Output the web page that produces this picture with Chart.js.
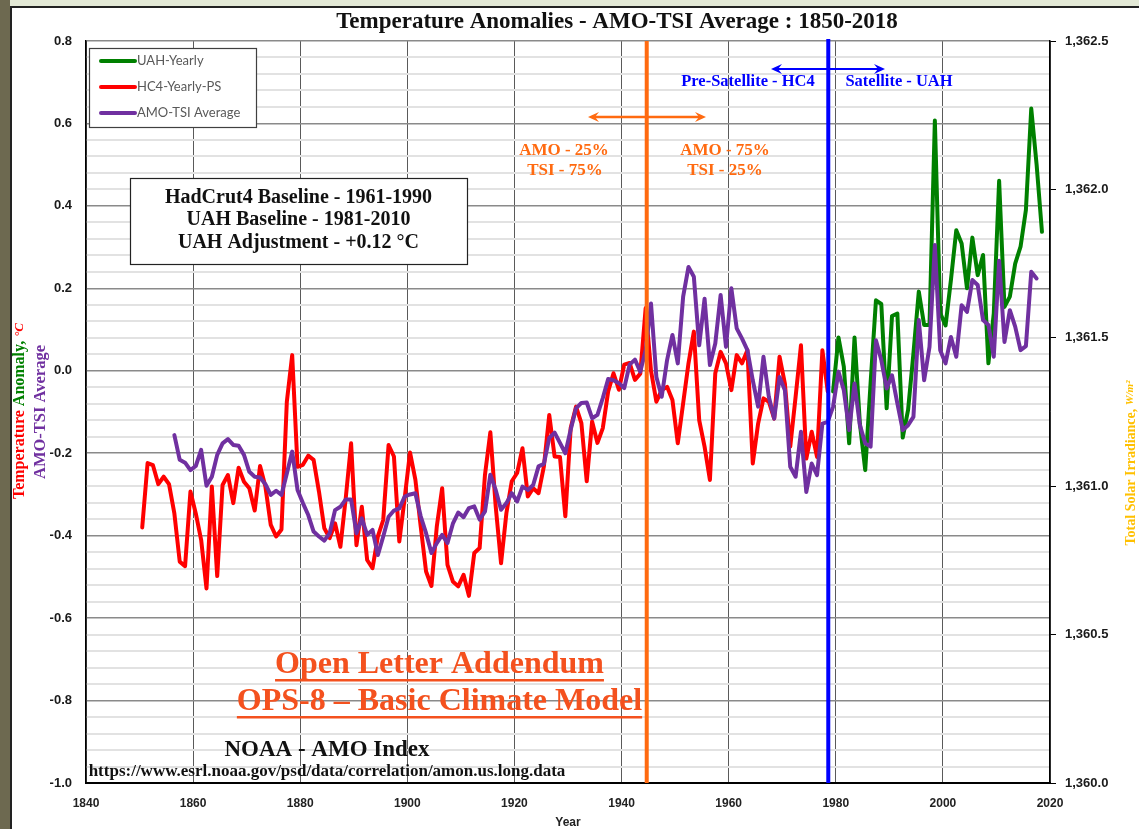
<!DOCTYPE html>
<html>
<head>
<meta charset="utf-8">
<title>Temperature Anomalies - AMO-TSI Average : 1850-2018</title>
<script src="https://cdn.jsdelivr.net/npm/chart.js@4.4.1/dist/chart.umd.min.js"></script>
<style>
  html, body { margin: 0; padding: 0; }
  body { width: 1139px; height: 829px; background: #e3e9d6; position: relative; overflow: hidden; }
  #edge { position: absolute; left: 0; top: 0; width: 10px; height: 829px; background: #6d6950; }
  #frame { position: absolute; left: 10px; top: 6px; width: 1129px; height: 823px; background: #fff;
           border-left: 2px solid #222; border-top: 2px solid #222; box-sizing: border-box; }
  #mycanvas { position: absolute; left: 0; top: 0; }
</style>
</head>
<body>
<div id="edge"></div>
<div id="frame"></div>
<canvas id="mycanvas" width="1139" height="829"></canvas>
<script>
// HadCrut4 yearly (pre-satellite), 1850-1978
var hc4Start = 1850;
var hc4Yearly = [
  -0.380, -0.224, -0.229, -0.275, -0.257, -0.275, -0.346, -0.463, -0.474, -0.293,
  -0.346, -0.410, -0.528, -0.281, -0.498, -0.277, -0.253, -0.321, -0.235, -0.269,
  -0.285, -0.339, -0.231, -0.281, -0.374, -0.402, -0.385, -0.075, 0.038, -0.233,
  -0.228, -0.206, -0.216, -0.293, -0.382, -0.406, -0.370, -0.427, -0.309, -0.176,
  -0.423, -0.330, -0.459, -0.479, -0.402, -0.362, -0.180, -0.208, -0.414, -0.309,
  -0.198, -0.264, -0.378, -0.487, -0.522, -0.378, -0.285, -0.471, -0.511, -0.523,
  -0.495, -0.546, -0.442, -0.430, -0.252, -0.149, -0.329, -0.467, -0.345, -0.268,
  -0.248, -0.188, -0.305, -0.285, -0.297, -0.232, -0.107, -0.208, -0.209, -0.353,
  -0.139, -0.087, -0.127, -0.268, -0.123, -0.175, -0.139, -0.050, -0.006, -0.046,
  0.015, 0.019, -0.022, -0.007, 0.152, 0.000, -0.075, -0.047, -0.039, -0.071,
  -0.176, -0.079, 0.018, 0.095, -0.120, -0.184, -0.265, -0.006, 0.046, 0.018,
  -0.047, 0.038, 0.018, 0.050, -0.225, -0.128, -0.067, -0.075, -0.116, 0.034,
  -0.031, -0.184, -0.063, 0.062, -0.213, -0.148, -0.209, 0.050, -0.050
];

// UAH yearly (+0.12 adjustment), 1979-2018
var uahStart = 1979;
var uahYearly = [
  -0.050, 0.081, 0.010, -0.176, 0.081, -0.128, -0.241, -0.030, 0.171, 0.162, -0.091,
  0.133, 0.139, -0.162, -0.095, 0.042, 0.192, 0.111, 0.111, 0.607, 0.140,
  0.110, 0.220, 0.341, 0.309, 0.200, 0.323, 0.232, 0.281, 0.018, 0.139,
  0.461, 0.155, 0.180, 0.260, 0.301, 0.390, 0.636, 0.500, 0.337
];

// AMO-TSI average, 1856-2017
var amoStart = 1856;
var amoTsi = [
  -0.156, -0.216, -0.223, -0.241,
  -0.231, -0.192, -0.279, -0.257, -0.204, -0.176, -0.166, -0.180, -0.182, -0.204,
  -0.245, -0.257, -0.259, -0.275, -0.301, -0.291, -0.301, -0.249, -0.196, -0.289,
  -0.321, -0.350, -0.390, -0.402, -0.412, -0.394, -0.338, -0.330, -0.312, -0.312,
  -0.394, -0.358, -0.398, -0.386, -0.447, -0.402, -0.354, -0.339, -0.334, -0.305,
  -0.300, -0.297, -0.353, -0.394, -0.442, -0.418, -0.398, -0.418, -0.371, -0.344,
  -0.355, -0.333, -0.329, -0.361, -0.341, -0.252, -0.289, -0.337, -0.321, -0.297,
  -0.317, -0.281, -0.289, -0.277, -0.232, -0.226, -0.163, -0.150, -0.175, -0.200,
  -0.143, -0.091, -0.078, -0.077, -0.115, -0.107, -0.066, -0.020, -0.023, -0.030,
  -0.042, 0.015, 0.027, -0.002, 0.050, 0.163, -0.015, -0.063, 0.026, 0.087,
  0.018, 0.180, 0.252, 0.228, 0.062, 0.175, 0.014, 0.066, 0.184, 0.058,
  0.200, 0.103, 0.078, 0.050, -0.023, -0.087, 0.034, -0.063, -0.116, -0.015,
  -0.047, -0.233, -0.257, -0.148, -0.294, -0.225, -0.253, -0.128, -0.124, -0.087,
  -0.002, -0.047, -0.144, -0.031, -0.132, -0.176, -0.184, 0.074, 0.026, -0.043,
  -0.011, -0.079, -0.144, -0.132, -0.112, 0.123, -0.023, 0.058, 0.305, 0.050,
  0.018, 0.082, 0.034, 0.159, 0.143, 0.220, 0.208, 0.123, 0.111, 0.034,
  0.267, 0.070, 0.147, 0.107, 0.050, 0.060, 0.240, 0.224
];

var yearTicks = [1840, 1860, 1880, 1900, 1920, 1940, 1960, 1980, 2000, 2020];
var amoSplitYear = 1944.7;   // AMO 25/75 weighting switch
var satSplitYear = 1978.6;   // start of satellite record

var orange = '#ff6a10';
var blue = '#0000ff';
var serif = '"Liberation Serif", "Times New Roman", serif';
var sans = '"Liberation Sans", Arial, sans-serif';

// yearly values plotted at mid-year
function toPoints(start, vals) {
    var pts = [];
    for (var i = 0; i < vals.length; i++) {
        pts.push({x: start + i + 0.5, y: vals[i]});
    }
    return pts;
}

function isMajor(v) {
    return Math.abs(v * 5 - Math.round(v * 5)) < 1e-6;
}

function txt(ctx, s, x, y, font, color, align) {
    ctx.font = font;
    ctx.fillStyle = color;
    ctx.textAlign = align || 'center';
    ctx.textBaseline = 'middle';
    ctx.fillText(s, x, y);
    return ctx.measureText(s).width;
}

function underlined(ctx, s, cx, y, font, color, uy) {
    var w = txt(ctx, s, cx, y, font, color);
    ctx.fillRect(cx - w / 2, uy, w, 2.5);
}

function rotRuns(ctx, cx, cy, runs) {
    ctx.save();
    ctx.translate(cx, cy);
    ctx.rotate(-Math.PI / 2);
    ctx.textAlign = 'left';
    ctx.textBaseline = 'middle';
    var total = 0, widths = [];
    runs.forEach(function (r) {
        ctx.font = r[2];
        var w = ctx.measureText(r[0]).width;
        widths.push(w);
        total += w;
    });
    var x = -total / 2;
    runs.forEach(function (r, i) {
        ctx.font = r[2];
        ctx.fillStyle = r[1];
        ctx.fillText(r[0], x, r[3] || 0);
        x += widths[i];
    });
    ctx.restore();
}

function arrow(ctx, x1, x2, y, color, w) {
    ctx.save();
    ctx.strokeStyle = color;
    ctx.fillStyle = color;
    ctx.lineWidth = w;
    ctx.beginPath();
    ctx.moveTo(x1 + 5, y);
    ctx.lineTo(x2 - 5, y);
    ctx.stroke();
    [[x1, 1], [x2, -1]].forEach(function (h) {
        ctx.beginPath();
        ctx.moveTo(h[0], y);
        ctx.lineTo(h[0] + h[1] * 11, y - 5);
        ctx.lineTo(h[0] + h[1] * 7, y);
        ctx.lineTo(h[0] + h[1] * 11, y + 5);
        ctx.closePath();
        ctx.fill();
    });
    ctx.restore();
}

var decor = {
    id: 'decor',
    afterDatasetsDraw: function (chart) {
        var ctx = chart.ctx, a = chart.chartArea, x = chart.scales.x;
        ctx.save();
        ctx.lineWidth = 4;
        ctx.strokeStyle = orange;
        var xo = x.getPixelForValue(amoSplitYear);
        ctx.beginPath(); ctx.moveTo(xo, a.top); ctx.lineTo(xo, a.bottom); ctx.stroke();
        ctx.strokeStyle = blue;
        var xb = x.getPixelForValue(satSplitYear);
        ctx.beginPath(); ctx.moveTo(xb, a.top - 2); ctx.lineTo(xb, a.bottom); ctx.stroke();
        ctx.restore();
    },
    afterDraw: function (chart) {
        var ctx = chart.ctx, a = chart.chartArea;
        ctx.save();

        // title
        txt(ctx, 'Temperature Anomalies - AMO-TSI Average : 1850-2018', 617, 22, 'bold 23px ' + serif, '#111');

        // axis titles
        rotRuns(ctx, 20, 411, [
            ['Temperature ', '#ff0000', 'bold 16px ' + serif],
            ['Anomaly, ', '#008000', 'bold 16px ' + serif],
            ['\u00b0C', '#ff0000', 'italic bold 13px ' + serif]
        ]);
        rotRuns(ctx, 41, 412, [['AMO-TSI Average', '#7030a0', 'bold 16.5px ' + serif]]);
        rotRuns(ctx, 1131, 463, [
            ['Total Solar Irradiance, ', '#ffc000', 'bold 14px ' + serif],
            ['W/m\u00b2', '#ffc000', 'italic bold 11px ' + serif, -1]
        ]);
        txt(ctx, 'Year', (a.left + a.right) / 2, 823, 'bold 12px ' + sans, '#222');

        // legend box
        ctx.fillStyle = '#fff';
        ctx.fillRect(89, 48, 167, 79);
        ctx.strokeStyle = '#404040';
        ctx.lineWidth = 1.2;
        ctx.strokeRect(89.5, 48.5, 167, 79);
        var items = [['UAH-Yearly', '#008000'], ['HC4-Yearly-PS', '#ff0000'], ['AMO-TSI Average', '#7030a0']];
        items.forEach(function (it, i) {
            var y = 61 + i * 26;
            ctx.strokeStyle = it[1];
            ctx.lineWidth = 4;
            ctx.lineCap = 'round';
            ctx.beginPath(); ctx.moveTo(101, y); ctx.lineTo(135, y); ctx.stroke();
            txt(ctx, it[0], 137, y, '13px Lato, ' + sans, '#595959', 'left');
        });

        // baseline box
        ctx.fillStyle = '#fff';
        ctx.fillRect(130, 178, 337, 86);
        ctx.strokeStyle = '#222';
        ctx.lineWidth = 1.2;
        ctx.strokeRect(130.5, 178.5, 337, 86);
        var bf = 'bold 20px ' + serif;
        txt(ctx, 'HadCrut4 Baseline - 1961-1990', 298.5, 198, bf, '#111');
        txt(ctx, 'UAH Baseline - 1981-2010', 298.5, 220, bf, '#111');
        txt(ctx, 'UAH Adjustment - +0.12 \u00b0C', 298.5, 243, bf, '#111');

        // AMO weighting
        arrow(ctx, 588, 706, 117, orange, 2.5);
        var of = 'bold 17px ' + serif;
        txt(ctx, 'AMO - 25%', 564, 151, of, orange);
        txt(ctx, 'TSI - 75%', 565, 171, of, orange);
        txt(ctx, 'AMO - 75%', 725, 151, of, orange);
        txt(ctx, 'TSI - 25%', 725, 171, of, orange);

        // satellite split
        arrow(ctx, 771, 885, 69, blue, 2);
        var sf = 'bold 16.5px ' + serif;
        txt(ctx, 'Pre-Satellite - HC4', 748, 82, sf, blue);
        txt(ctx, 'Satellite - UAH', 899, 82, sf, blue);

        // footer notes
        underlined(ctx, 'Open Letter Addendum', 439.5, 665, 'bold 32px ' + serif, '#f4511e', 679);
        underlined(ctx, 'OPS-8 \u2013 Basic Climate Model', 439.5, 702, 'bold 32px ' + serif, '#f4511e', 716);
        txt(ctx, 'NOAA - AMO Index', 327, 750, 'bold 23px ' + serif, '#111');
        txt(ctx, 'https://www.esrl.noaa.gov/psd/data/correlation/amon.us.long.data', 327, 772, 'bold 17px ' + serif, '#111');

        ctx.restore();
    }
};

var chartdata = {
    datasets: [
        {
            label: 'UAH-Yearly',
            data: toPoints(uahStart, uahYearly),
            borderColor: '#008000',
            borderWidth: 4,
            order: 2
        },
        {
            label: 'HC4-Yearly-PS',
            data: toPoints(hc4Start, hc4Yearly),
            borderColor: '#ff0000',
            borderWidth: 4,
            order: 1
        },
        {
            label: 'AMO-TSI Average',
            data: toPoints(amoStart, amoTsi),
            borderColor: '#7030a0',
            borderWidth: 4,
            order: 0
        }
    ]
};

var ctx = document.getElementById('mycanvas');

var LineGraph = new Chart(ctx, {
    type: 'line',
    data: chartdata,
    plugins: [decor],
    options: {
        responsive: false,
        animation: false,
        layout: { padding: { top: 41, left: 0, right: 0, bottom: 0 } },
        elements: {
            point: { radius: 0 },
            line: { tension: 0, borderJoinStyle: 'round', borderCapStyle: 'round', fill: false }
        },
        plugins: { legend: { display: false }, tooltip: { enabled: false } },
        scales: {
            x: {
                type: 'linear',
                min: 1840,
                max: 2020,
                afterBuildTicks: function (s) {
                    s.ticks = yearTicks.map(function (v) { return {value: v}; });
                },
                ticks: {
                    autoSkip: false,
                    padding: 13,
                    color: '#222',
                    font: { family: sans, weight: 'bold', size: 12 },
                    callback: function (v) { return String(v); }
                },
                grid: { color: '#5a5a5a', lineWidth: 1, drawTicks: false },
                border: { color: '#000', width: 2 },
                afterFit: function (s) { s.height = 46; }
            },
            y: {
                position: 'left',
                min: -1,
                max: 0.8,
                ticks: {
                    stepSize: 0.04,
                    autoSkip: false,
                    padding: 14,
                    color: '#1a1a1a',
                    font: { family: sans, weight: 'bold', size: 13 },
                    callback: function (v) {
                        if (!isMajor(v)) return '';
                        var r = Math.round(v * 10) / 10;
                        return Math.abs(r) < 1e-9 ? '0.0' : r.toFixed(1);
                    }
                },
                grid: {
                    drawTicks: false,
                    color: function (c) { return isMajor(c.tick.value) ? '#8a8a8a' : '#e2e2e2'; },
                    lineWidth: function (c) { return isMajor(c.tick.value) ? 1.5 : 2; }
                },
                border: { color: '#000', width: 1.5 },
                afterFit: function (s) { s.width = 86; }
            },
            y2: {
                position: 'right',
                min: 1360,
                max: 1362.5,
                ticks: {
                    stepSize: 0.5,
                    padding: 9,
                    color: '#1a1a1a',
                    font: { family: sans, weight: 'bold', size: 13 },
                    callback: function (v) {
                        return Math.floor(v / 1000) + ',' + (v % 1000).toFixed(1);
                    }
                },
                grid: { drawOnChartArea: false, drawTicks: true, tickLength: 6, color: '#000', lineWidth: 1 },
                border: { color: '#000', width: 1.5 },
                afterFit: function (s) { s.width = 89; }
            }
        }
    }
});
</script>
</body>
</html>
